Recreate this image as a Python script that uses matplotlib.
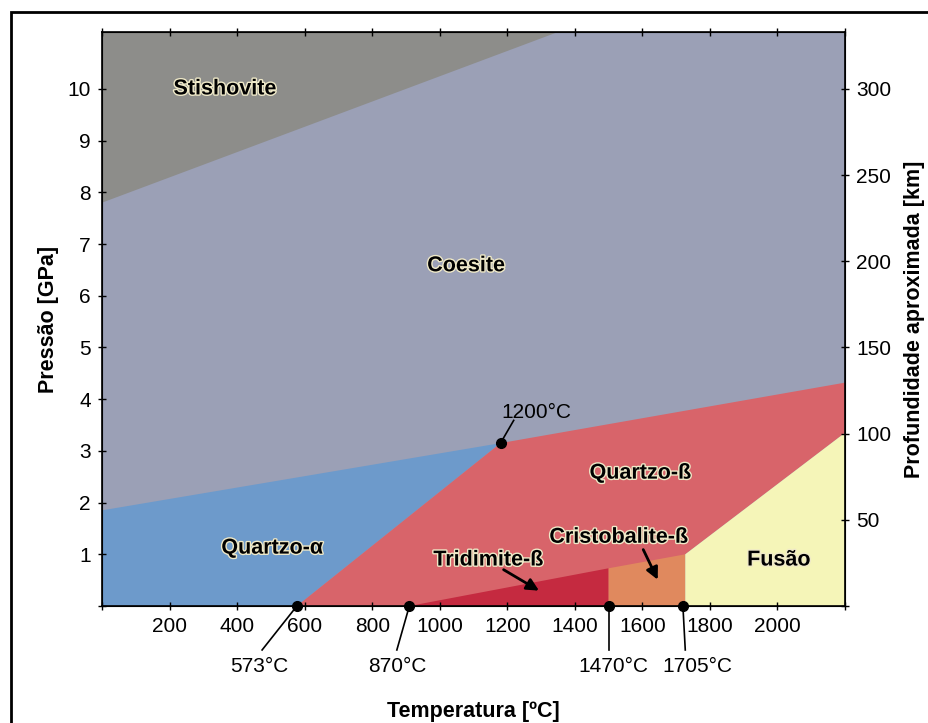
import numpy as np
import matplotlib
matplotlib.use('Agg')
import matplotlib.pyplot as plt
import matplotlib.patheffects as pe
from matplotlib.patches import Rectangle

plt.rcParams['font.family'] = ['Liberation Sans', 'DejaVu Sans']

# phase fields (temperature in C, pressure in GPa)
stish_T = [0, 1350, 1350, 0]
stish_P = [7.8, 11.1, 12.0, 12.0]
qa_T = [0, 0, 1180, 577]
qa_P = [0, 1.85, 3.15, 0]
qb_T = [577, 1180, 2200, 2200, 1727, 1727]
qb_P = [0, 3.15, 4.32, 3.35, 1.0, 0]
trid_T = [910, 1500, 1500]
trid_P = [0, 0.73, 0]
crist_T = [1500, 1500, 1727, 1727]
crist_P = [0, 0.73, 1.0, 0]
melt_T = [1727, 1727, 2200, 2200]
melt_P = [0, 1.0, 3.35, 0]

# marked points
dot_T = [577, 910, 1500, 1720, 1180]
dot_P = [0, 0, 0, 0, 3.15]
dot_lab = ['573°C', '870°C', '1470°C', '1705°C', '1200°C']

phase_names = ['Stishovite', 'Coesite', 'Quartzo-α', 'Quartzo-ß',
               'Cristobalite-ß', 'Tridimite-ß', 'Fusão']
phase_T = [364, 1078, 504, 1594, 1530, 1144, 2004]
phase_P = [10.0, 6.58, 1.12, 2.57, 1.33, 0.89, 0.89]

km_per_gpa = 30.0

fig = plt.figure(figsize=(9.29, 7.23), dpi=100)
ax = fig.add_axes([0.1098, 0.1618, 0.7998, 0.7939])

ax.set_facecolor('#9ba0b6')
ax.fill(stish_T, stish_P, color='#8d8d8a', lw=0)
ax.fill(qa_T, qa_P, color='#6d9acb', lw=0)
ax.fill(qb_T, qb_P, color='#d8646a', lw=0)
ax.fill(trid_T, trid_P, color='#c52a40', lw=0)
ax.fill(crist_T, crist_P, color='#e0895e', lw=0)
ax.fill(melt_T, melt_P, color='#f5f5b8', lw=0)

ax.set_xlim(0, 2200)
ax.set_ylim(0, 11.1)
ax.set_xticks(np.arange(0, 2201, 200))
ax.set_xticklabels(['' if (t == 0 or t > 2000) else str(t) for t in range(0, 2201, 200)])
ax.set_yticks(np.arange(0, 11, 1))
ax.set_yticklabels([''] + [str(i) for i in range(1, 11)])
ax.tick_params(direction='inout', length=6, width=1, labelsize=15, top=True, pad=5)
for s in ax.spines.values():
    s.set_linewidth(1.2)

ax2 = ax.twinx()
ax2.set_ylim(0, 11.1 * km_per_gpa)
ax2.set_yticks(np.arange(0, 301, 50))
ax2.set_yticklabels([''] + [str(v) for v in range(50, 301, 50)])
ax2.tick_params(direction='inout', length=6, width=1, labelsize=15, pad=5)

ax.set_ylabel('Pressão [GPa]', fontsize=15.5, fontweight='bold', labelpad=6)
ax2.set_ylabel('Profundidade aproximada [km]', fontsize=15.5, fontweight='bold', labelpad=9)
ax.set_xlabel('Temperatura [ºC]', fontsize=15.5, fontweight='bold', labelpad=47)

halo = [pe.withStroke(linewidth=2, foreground='#efe9c8')]
for name, t, p in zip(phase_names, phase_T, phase_P):
    ax.text(t, p, name, fontsize=15.5, fontweight='bold', ha='center', va='center',
            path_effects=halo)

# arrows to the narrow fields
ax.annotate('', xy=(1301, 0.27), xytext=(1182, 0.73),
            arrowprops=dict(arrowstyle='-|>', color='black', lw=2, mutation_scale=18))
ax.annotate('', xy=(1649, 0.46), xytext=(1599, 1.14),
            arrowprops=dict(arrowstyle='-|>', color='black', lw=2, mutation_scale=18))

# dots with leader lines and labels
ax.plot(dot_T, dot_P, 'o', color='black', ms=7, clip_on=False, zorder=5)
leader_end = [(474, -0.85), (873, -0.85), (1500, -0.85), (1727, -0.85), (1219, 3.59)]
label_pos = [(465, -1.16), (873, -1.16), (1513, -1.16), (1763, -1.16), (1286, 3.75)]
for t, p, lab, le, lp in zip(dot_T, dot_P, dot_lab, leader_end, label_pos):
    ax.plot([t, le[0]], [p, le[1]], color='black', lw=1.2, clip_on=False, zorder=5)
    ax.text(lp[0], lp[1], lab, fontsize=15, ha='center', va='center')

# outer frame
fig.patches.append(Rectangle((0.012, -0.1), 1.1, 1.0834, transform=fig.transFigure,
                             fill=False, lw=2, edgecolor='black'))

plt.savefig('out.png', dpi=100)
